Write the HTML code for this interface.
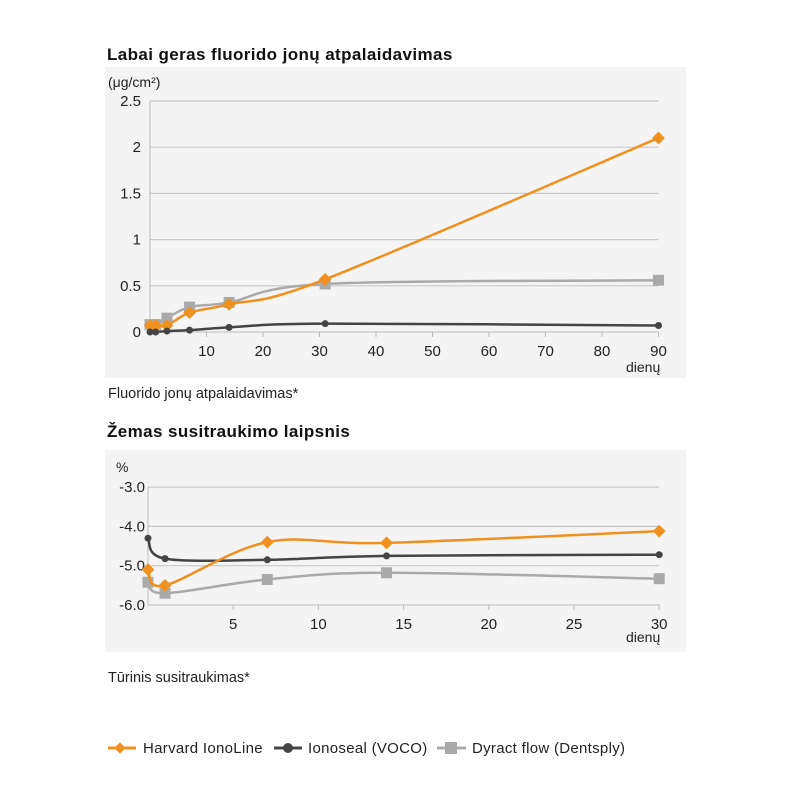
<!DOCTYPE html>
<html><head><meta charset="utf-8"><style>
body{margin:0;width:800px;height:800px;background:#fff;font-family:"Liberation Sans",Arial,sans-serif;overflow:hidden}
svg{position:absolute;left:0;top:0}
</style></head><body>
<svg id="s" width="800" height="800">
<rect x="105" y="67" width="581" height="311" fill="#f4f4f4"/>
<rect x="105" y="450" width="581" height="202" fill="#f4f4f4"/>
<text x="107" y="60" font-size="17" letter-spacing="0.4" font-weight="bold" fill="#111">Labai geras fluorido jonų atpalaidavimas</text>
<text x="108" y="87" font-size="14" fill="#222">(μg/cm²)</text>
<text x="626" y="372" font-size="14" fill="#222">dienų</text>
<text x="108" y="398" font-size="14.5" fill="#222">Fluorido jonų atpalaidavimas*</text>
<text x="107" y="437" font-size="17" letter-spacing="0.4" font-weight="bold" fill="#111">Žemas susitraukimo laipsnis</text>
<text x="116" y="472" font-size="14" fill="#222">%</text>
<text x="626" y="642" font-size="14" fill="#222">dienų</text>
<text x="108" y="682" font-size="14.5" fill="#222">Tūrinis susitraukimas*</text>
<g id="c1"></g>
<g id="c2"></g>
<g font-size="15" letter-spacing="0.3">
<g>
<line x1="108" y1="748" x2="136" y2="748" stroke="#f0901e" stroke-width="3"/>
<rect x="116" y="744" width="8" height="8" fill="#f0901e" transform="rotate(45 120 748)"/>
<text x="143" y="753" fill="#222">Harvard IonoLine</text></g>
<g>
<line x1="274" y1="748" x2="302" y2="748" stroke="#444" stroke-width="3"/>
<circle cx="288" cy="748" r="5" fill="#444"/>
<text x="308" y="753" fill="#222">Ionoseal (VOCO)</text></g>
<g>
<line x1="437" y1="748" x2="466" y2="748" stroke="#aaa" stroke-width="3"/>
<rect x="445" y="742" width="12" height="12" fill="#aaa"/>
<text x="472" y="753" fill="#222">Dyract flow (Dentsply)</text></g>
</g>
</svg>
<script>
const days1=[0,1,3,7,14,31,90];
const harvard1=[0.07,0.07,0.07,0.21,0.30,0.57,2.10];
const ionoseal1=[0,0,0.01,0.02,0.05,0.09,0.07];
const dyract1=[0.08,0.08,0.15,0.27,0.32,0.52,0.56];
const yTicks1=[0,0.5,1,1.5,2,2.5];
const yTickLabels1=["0","0.5","1","1.5","2","2.5"];
const xTicks1=[10,20,30,40,50,60,70,80,90];

const days2=[0,1,7,14,30];
const harvard2=[-5.1,-5.5,-4.4,-4.42,-4.12];
const ionoseal2=[-4.3,-4.82,-4.85,-4.75,-4.72];
const dyract2=[-5.42,-5.7,-5.35,-5.18,-5.33];
const yTicks2=[-3,-4,-5,-6];
const yTickLabels2=["-3.0","-4.0","-5.0","-6.0"];
const xTicks2=[5,10,15,20,25,30];

const NS="http://www.w3.org/2000/svg";
function mk(p,t,a){const e=document.createElementNS(NS,t);for(const k in a)e.setAttribute(k,a[k]);p.appendChild(e);return e;}
function smooth(pts){let d="M"+pts[0][0]+","+pts[0][1];for(let i=0;i<pts.length-1;i++){const p0=pts[Math.max(i-1,0)],p1=pts[i],p2=pts[i+1],p3=pts[Math.min(i+2,pts.length-1)];const t=6;d+=" C"+(p1[0]+(p2[0]-p0[0])/t)+","+(p1[1]+(p2[1]-p0[1])/t)+" "+(p2[0]-(p3[0]-p1[0])/t)+","+(p2[1]-(p3[1]-p1[1])/t)+" "+p2[0]+","+p2[1];}return d;}
function marker(g,kind,x,y,col){let m;
 if(kind==="d"){m=mk(g,"rect",{x:x-4.5,y:y-4.5,width:9,height:9,fill:col,transform:"rotate(45 "+x+" "+y+")"});}
 else if(kind==="c"){m=mk(g,"circle",{cx:x,cy:y,r:3.5,fill:col});}
 else{m=mk(g,"rect",{x:x-5.5,y:y-5.5,width:11,height:11,fill:col});}
 
 }

function chart(g,o){
 const X=v=>o.x0+(v-o.xmin)*o.xs, Y=v=>o.y0-(v-o.ymin)*o.ys;
 o.yt.forEach((v,i)=>{
  const l=mk(g,"line",{x1:X(o.xmin),x2:X(o.xmax),y1:Y(v),y2:Y(v),stroke:"#c8c8c8","stroke-width":1.2});
  
  
  const t=mk(g,"text",{x:o.lblx,y:Y(v)+5,"font-size":15,"text-anchor":"end",fill:"#222"});t.textContent=o.yl[i];
  
  });
 const ax=mk(g,"line",{x1:X(o.xmin),x2:X(o.xmin),y1:Y(o.ymax),y2:Y(o.ymin),stroke:"#bbb"});
 
 
 o.xt.forEach(v=>{
  const tk=mk(g,"line",{x1:X(v),x2:X(v),y1:Y(o.ymin),y2:Y(o.ymin)+5,stroke:"#bbb"});
  
  
  const t=mk(g,"text",{x:X(v),y:Y(o.ymin)+24,"font-size":15,"text-anchor":"middle",fill:"#222"});t.textContent=v;
  
  });
 o.series.forEach(s=>{
  const sg=mk(g,"g",{});
  
  
  const pts=o.days.map((d,i)=>[X(d),Y(s.v[i])]);
  const p=mk(sg,"path",{d:o.smooth?smooth(pts):"M"+pts.join(" L"),fill:"none",stroke:s.col,"stroke-width":2.5});
  
  
  pts.forEach(q=>marker(sg,s.m,q[0],q[1],s.col));});
}
chart(document.getElementById("c1"),{x0:150,xmin:0,xmax:90,xs:5.65,y0:332,ymin:0,ymax:2.5,ys:92.4,yt:yTicks1,yl:yTickLabels1,xt:xTicks1,lblx:141,days:days1,smooth:true,
 series:[{name:"series-dyract",v:dyract1,col:"#aaa",m:"s"},{name:"series-harvard",v:harvard1,col:"#f0901e",m:"d"},{name:"series-ionoseal",v:ionoseal1,col:"#444",m:"c"}]});
chart(document.getElementById("c2"),{x0:148,xmin:0,xmax:30,xs:17.04,y0:605,ymin:-6,ymax:-3,ys:39.3,yt:yTicks2,yl:yTickLabels2,xt:xTicks2,lblx:145,days:days2,smooth:true,
 series:[{name:"series-dyract",v:dyract2,col:"#aaa",m:"s"},{name:"series-ionoseal",v:ionoseal2,col:"#444",m:"c"},{name:"series-harvard",v:harvard2,col:"#f0901e",m:"d"}]});
</script>
</body></html>
